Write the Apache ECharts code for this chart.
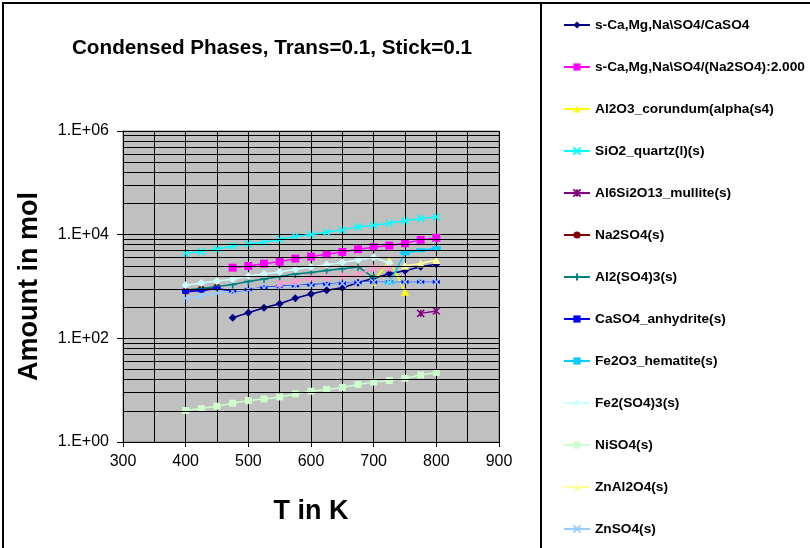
<!DOCTYPE html>
<html><head><meta charset="utf-8">
<script src="https://cdn.jsdelivr.net/npm/echarts@6/dist/echarts.min.js"></script>
<style>html,body{margin:0;padding:0;background:#fff}#c{width:810px;height:548px}</style>
</head><body><div id="c"></div>
<script>
// Temperatures (K)
const temps = [400,425,450,475,500,525,550,575,600,625,650,675,700,725,750,775,800];
// Amounts in mol (null = phase absent)
const sCaSO4   = [null,null,null,249,312,389,465,592,716,845,948,1185,1442,1762,2013,2405,2700];
const sNa2SO4  = [null,null,null,2311,2490,2760,3020,3450,3770,4200,4650,5240,5730,6150,6840,7930,8670];
const al2o3    = [null,null,null,null,null,null,null,null,null,null,null,null,1239,3253,794,null,null];
const sio2     = [4385,4710,5310,6070,6635,7160,8035,9180,10090,11170,12370,14130,15240,16670,18460,20460,22070];
const mullite  = [null,null,null,null,null,null,null,null,null,null,null,null,null,null,null,303,336];
const na2so4   = [819,883,966,null,null,null,null,null,null,null,null,null,null,null,null,null,null];
const al2so43  = [857,916,1000,1094,1250,1397,1561,1746,1867,2041,2200,2383,1507,null,null,null,null];
const caso4    = [794,830,915,808,867,957,1009,1037,1080,1119,1154,1206,1206,1222,1222,1230,1230];
const fe2o3    = [null,null,null,null,null,null,null,null,null,null,null,null,null,1185,4385,5010,5480];
const fe2so43  = [1055,1169,1278,1378,1596,1746,1909,2153,2385,2641,2912,3254,3670,2846,null,null,null];
const niso4    = [4.05,4.42,4.90,5.60,6.31,6.78,7.41,8.47,9.55,10.3,11.3,12.9,14.3,15.4,17.0,19.7,22.0];
const znal2o4  = [null,null,null,null,null,null,null,null,null,null,null,null,null,null,2514,2786,3254];
const znso4    = [592,664,750,819,875,936,978,1023,1047,1094,1143,1195,1206,1222,1222,1222,1222];
const series14 = [null,null,null,null,null,null,1133,1250,1462,1507,1596,1668,2250,2250,null,null,null];
// Axis ticks
const xTicks = [300,400,500,600,700,800,900];
const yMinor = [4,9,16,25,36,49,64,81,400,900,1600,2500,3600,4900,6400,8100,40000,90000,160000,250000,360000,490000,640000,810000];

const FONT = 'Liberation Sans, Arial, sans-serif';
const X = 'path://M0,0L10,10M10,0L0,10';
const PLUS = 'path://M5,0L5,10M0,5L10,5';
const STAR = 'path://M0,0L10,10M10,0L0,10M5,0L5,10';

function pairs(vals){ const out=[]; vals.forEach((v,i)=>{ if(v!=null) out.push([temps[i], v]); }); return out; }

const defs = [
  ['s-Ca,Mg,Na\\SO4/CaSO4', sCaSO4, '#000080', 'diamond', 8, false],
  ['s-Ca,Mg,Na\\SO4/(Na2SO4):2.000', sNa2SO4, '#FF00FF', 'rect', 8, false],
  ['Al2O3_corundum(alpha(s4)', al2o3, '#FFFF00', 'triangle', 8, false],
  ['SiO2_quartz(l)(s)', sio2, '#00FFFF', X, 7, true],
  ['Al6Si2O13_mullite(s)', mullite, '#800080', STAR, 7, true],
  ['Na2SO4(s)', na2so4, '#800000', 'circle', 7, false],
  ['Al2(SO4)3(s)', al2so43, '#008080', PLUS, 8, true],
  ['CaSO4_anhydrite(s)', caso4, '#0000FF', 'rect', [7,4], false],
  ['Fe2O3_hematite(s)', fe2o3, '#00CCFF', 'rect', [9,4], false],
  ['Fe2(SO4)3(s)', fe2so43, '#CCFFFF', 'diamond', 8, false],
  ['NiSO4(s)', niso4, '#CCFFCC', 'rect', 7, false],
  ['ZnAl2O4(s)', znal2o4, '#FFFF99', 'triangle', 8, false],
  ['ZnSO4(s)', znso4, '#99CCFF', X, 7, true],
  ['Series 14', series14, '#FF99CC', STAR, 7, true]
];

const series = [{
  name: '_grid', type: 'line', data: [], z: 1, silent: true,
  markLine: {
    silent: true, symbol: 'none', animation: false,
    label: {show: false},
    lineStyle: {color: '#000', width: 1, type: 'solid'},
    data: yMinor.map(v => ({yAxis: v}))
  }
}];
defs.forEach(d => {
  series.push({
    name: d[0], type: 'line', data: pairs(d[1]),
    symbol: d[3], symbolSize: d[4], showSymbol: true,
    lineStyle: {color: d[2], width: 1.5},
    itemStyle: {color: d[2], borderColor: d[2], borderWidth: d[5] ? 1.5 : 0},
    emphasis: {disabled: true},
    z: 3
  });
});

const chart = echarts.init(document.getElementById('c'));
chart.setOption({
  animation: false,
  backgroundColor: '#fff',
  title: {
    text: 'Condensed Phases, Trans=0.1, Stick=0.1',
    left: 267, top: 33, textAlign: 'center',
    textStyle: {fontFamily: FONT, fontWeight: 'bold', fontSize: 20.7, color: '#000'}
  },
  graphic: [
    {type: 'rect', shape: {x: 3, y: 3, width: 900, height: 700}, style: {fill: 'none', stroke: '#000', lineWidth: 2}, silent: true},
    {type: 'rect', shape: {x: 541, y: 3, width: 400, height: 700}, style: {fill: 'none', stroke: '#000', lineWidth: 2}, silent: true}
  ],
  legend: {
    orient: 'vertical', left: 563, top: 18, padding: 0,
    itemWidth: 26, itemHeight: 9, itemGap: 28,
    selectedMode: false,
    data: defs.slice(0, 13).map(d => d[0]),
    textStyle: {fontFamily: FONT, fontWeight: 'bold', fontSize: 13.7, color: '#000'}
  },
  grid: {
    left: 123, top: 131, width: 376, height: 311,
    show: true, backgroundColor: '#C0C0C0', borderColor: '#808080', borderWidth: 1
  },
  xAxis: {
    type: 'value', min: 300, max: 900, interval: 100,
    name: 'T in K', nameLocation: 'middle', nameGap: 56,
    nameTextStyle: {fontFamily: FONT, fontWeight: 'bold', fontSize: 27, color: '#000'},
    axisLine: {show: true, lineStyle: {color: '#000', width: 1}},
    axisTick: {show: true, length: 5, lineStyle: {color: '#000'}},
    axisLabel: {fontFamily: FONT, fontSize: 16, color: '#000', margin: 12,
      formatter: v => xTicks.includes(v) ? String(v) : ''},
    splitLine: {show: true, lineStyle: {color: '#000', width: 1}},
    minorTick: {show: false, splitNumber: 2},
    minorSplitLine: {show: true, lineStyle: {color: '#000', width: 1}}
  },
  yAxis: {
    type: 'log', logBase: 100, min: 1, max: 1000000, splitNumber: 3,
    name: 'Amount in mol', nameLocation: 'middle', nameGap: 80, nameRotate: 90,
    nameTextStyle: {fontFamily: FONT, fontWeight: 'bold', fontSize: 27, color: '#000'},
    axisLine: {show: true, lineStyle: {color: '#000', width: 1}},
    axisTick: {show: true, length: 6, lineStyle: {color: '#000'}},
    axisLabel: {fontFamily: FONT, fontSize: 16, color: '#000', margin: 14,
      formatter: v => '1.E+' + String(Math.round(Math.log10(v))).padStart(2, '0')},
    splitLine: {show: true, lineStyle: {color: '#000', width: 1}}
  },
  series: series
});
</script></body></html>
